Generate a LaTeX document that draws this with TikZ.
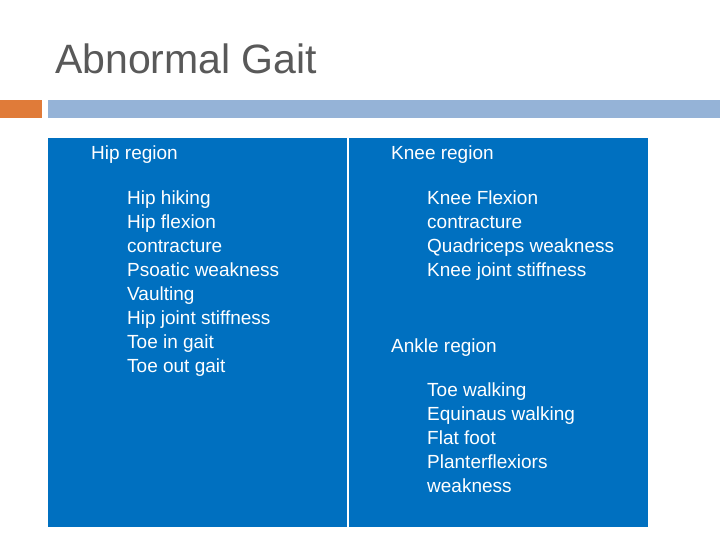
\documentclass[tikz,border=0pt]{standalone}
\usepackage{fontspec}
\setmainfont{Liberation Sans}
\definecolor{titlegray}{HTML}{595959}
\definecolor{orangebar}{HTML}{E07B39}
\definecolor{graybar}{HTML}{95B3D7}
\definecolor{boxblue}{HTML}{0070C0}
\begin{document}
\begin{tikzpicture}[x=1pt,y=-1pt,
  txt/.style={anchor=base west,inner sep=0pt,text=white,font=\fontsize{19}{24}\selectfont,align=left}]
\useasboundingbox (0,0) rectangle (720,540);
\fill[white] (0,0) rectangle (720,540);
\node[anchor=base west,inner sep=0pt,text=titlegray,font=\fontsize{41}{48}\selectfont] (title) at (55,74) {Abnormal Gait};
\fill[orangebar] (0,100) rectangle (42,118);
\fill[graybar] (48,100) rectangle (720,118);
\fill[boxblue] (48,138) rectangle (648,527);
\draw[white,line width=2pt] (348,138) -- (348,527);
\node[txt] (hip) at (91,160) {Hip region};
\node[txt,anchor=north west] (hipl) at (127,190.5) {Hip hiking\\Hip flexion\\contracture\\Psoatic weakness\\Vaulting\\Hip joint stiffness\\Toe in gait\\Toe out gait};
\node[txt] (knee) at (391,160) {Knee region};
\node[txt,anchor=north west] (kneel) at (427,190.5) {Knee Flexion\\contracture\\Quadriceps weakness\\Knee joint stiffness};
\node[txt] (ankle) at (391,352) {Ankle region};
\node[txt,anchor=north west] (anklel) at (427,382.5) {Toe walking\\Equinaus walking\\Flat foot\\Planterflexiors\\weakness};
\end{tikzpicture}
\end{document}
